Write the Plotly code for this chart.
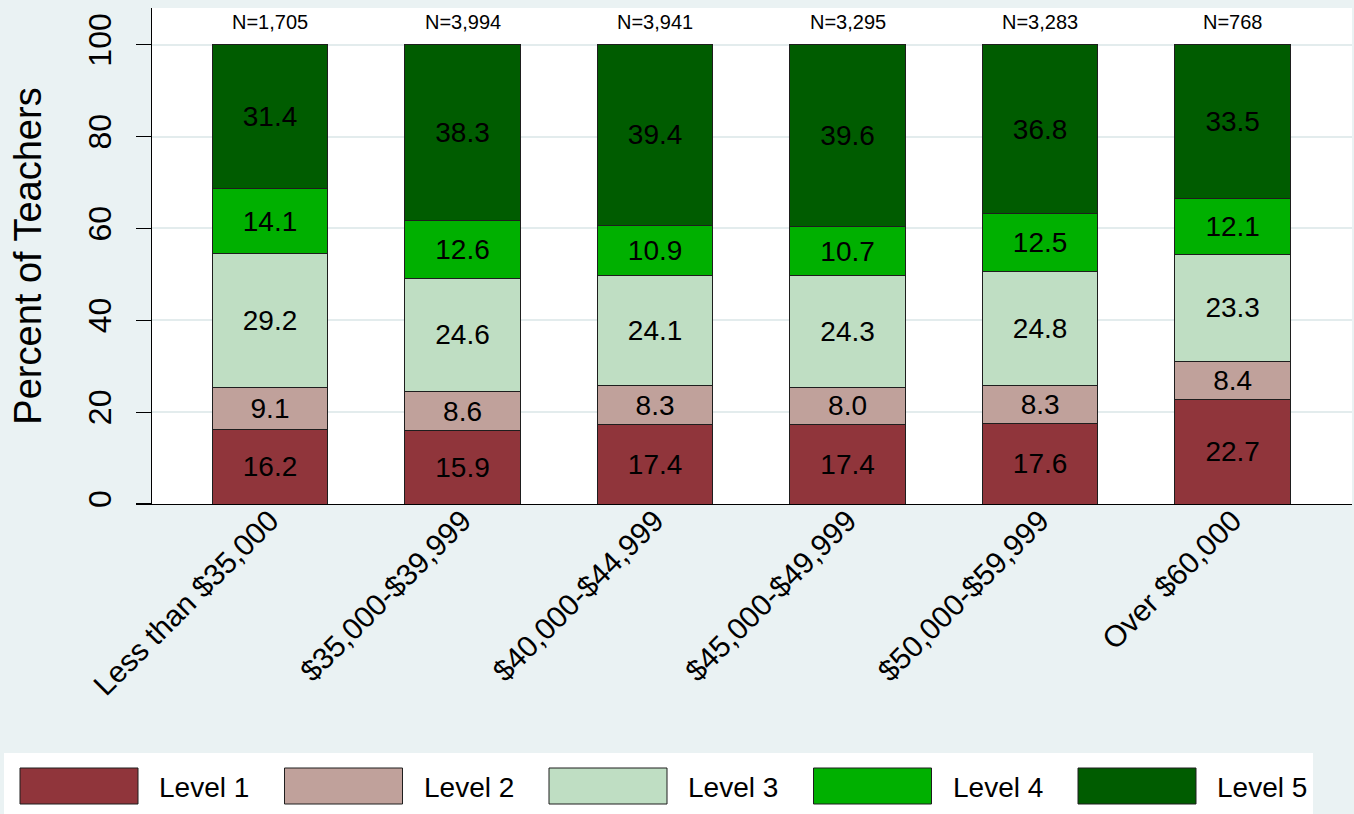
import plotly.graph_objects as go

categories = ["Less than $35,000", "$35,000-$39,999", "$40,000-$44,999",
              "$45,000-$49,999", "$50,000-$59,999", "Over $60,000"]
n_labels = ["N=1,705", "N=3,994", "N=3,941", "N=3,295", "N=3,283", "N=768"]
level1 = [16.2, 15.9, 17.4, 17.4, 17.6, 22.7]
level2 = [9.1, 8.6, 8.3, 8.0, 8.3, 8.4]
level3 = [29.2, 24.6, 24.1, 24.3, 24.8, 23.3]
level4 = [14.1, 12.6, 10.9, 10.7, 12.5, 12.1]
level5 = [31.4, 38.3, 39.4, 39.6, 36.8, 33.5]
series_names = ["Level 1", "Level 2", "Level 3", "Level 4", "Level 5"]
series_values = [level1, level2, level3, level4, level5]
colors = ["#90353b", "#c0a19b", "#bfdec3", "#00b000", "#005c00"]
y_ticks = [0, 20, 40, 60, 80, 100]

FONT = "Liberation Sans, Arial, Helvetica, sans-serif"
BG = "#eaf2f3"

fig = go.Figure()
for name, vals, col in zip(series_names, series_values, colors):
    fig.add_trace(go.Bar(
        x=categories, y=vals, name=name, width=0.6,
        marker=dict(color=col, line=dict(color="#1e1e1e", width=1)),
        texttemplate="%{y:.1f}", textposition="inside",
        insidetextanchor="middle", textangle=0,
        textfont=dict(color="black", size=28, family=FONT),
        showlegend=False, hoverinfo="skip",
    ))

for cat, lab in zip(categories, n_labels):
    fig.add_annotation(x=cat, y=105, text=lab, showarrow=False,
                       font=dict(size=20, color="black", family=FONT),
                       xanchor="center", yanchor="middle")

# custom legend (white box with wide swatches)
W, H = 1354, 814
L, R, T, B = 152, 2, 8, 310
pw, ph = W - L - R, H - T - B

def px(x):
    return (x - L) / pw

def py(y):
    return (H - B - y) / ph

fig.add_shape(type="rect", xref="paper", yref="paper",
              x0=px(4), x1=px(1313), y0=py(753), y1=py(830),
              fillcolor="white", line=dict(width=0), layer="below")
step = 264.5
for i, (name, col) in enumerate(zip(series_names, colors)):
    x0 = 20 + i * step
    fig.add_shape(type="rect", xref="paper", yref="paper",
                  x0=px(x0), x1=px(x0 + 118), y0=py(768), y1=py(804),
                  fillcolor=col, line=dict(color="#1e1e1e", width=1))
    fig.add_annotation(xref="paper", yref="paper", x=px(x0 + 137), y=py(787),
                       text=name, showarrow=False, xanchor="left", yanchor="middle",
                       font=dict(size=28, color="black", family=FONT))

fig.update_layout(
    barmode="stack",
    width=W, height=H,
    margin=dict(l=L, r=R, t=T, b=B, pad=0),
    paper_bgcolor=BG, plot_bgcolor="white",
    font=dict(family=FONT, color="black"),
    uniformtext=dict(minsize=28, mode="show"),
    showlegend=False,
)
fig.update_xaxes(
    range=[-0.613, 5.62], showgrid=False, ticks="",
    tickangle=-45, tickfont=dict(size=30, family=FONT, color="black"),
    ticklabelstandoff=-14,
    showline=True, linecolor="black", linewidth=1.2, zeroline=False,
)
fig.update_yaxes(
    range=[0, 108], tickvals=y_ticks, ticktext=[str(t) for t in y_ticks],
    tickangle=-90, ticks="outside", ticklen=15, tickcolor="black", tickwidth=1.2,
    tickfont=dict(size=32, family=FONT, color="black"), ticklabelstandoff=12,
    showgrid=True, gridcolor="#e3eced", gridwidth=2,
    showline=True, linecolor="black", linewidth=1.2, zeroline=False,
    title=dict(text="Percent of Teachers", font=dict(size=38, family=FONT, color="black"),
               standoff=28),
)

fig.write_html("out.html",
               config={"displayModeBar": False, "staticPlot": True},
               post_script="document.body.style.margin='0';document.body.style.overflow='hidden';")
